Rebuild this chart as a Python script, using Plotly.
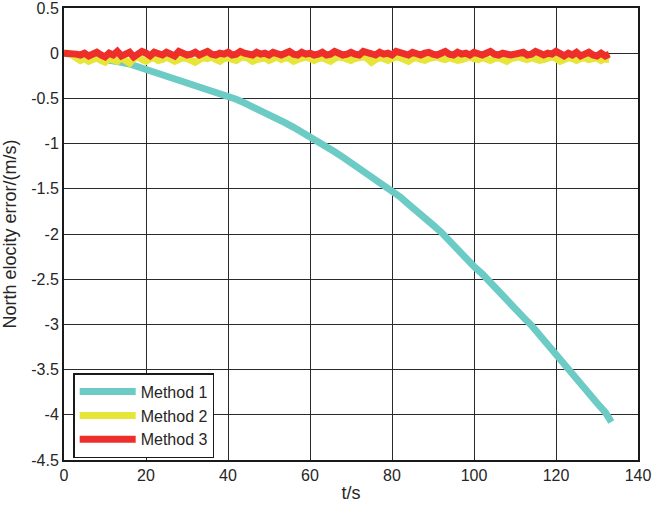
import plotly.graph_objects as go

# Method 1 (drifting estimate)
t_m1 = [0, 2, 4, 6, 8, 10, 12, 14, 16, 18, 20, 22, 24, 26, 28, 30, 32, 34, 36, 38,
        40, 42, 44, 46, 48, 50, 52, 54, 56, 58, 60, 62, 64, 66, 68, 70, 72, 74, 76, 78,
        80, 82, 84, 86, 88, 90, 92, 94, 96, 98, 100, 102, 104, 106, 108, 110, 112, 114,
        116, 118, 120, 122, 124, 126, 128, 130, 132, 133.5]
v_m1 = [0, -0.01, -0.03, -0.05, -0.05, -0.07, -0.08, -0.10, -0.12, -0.15,
        -0.17, -0.19, -0.22, -0.25, -0.28, -0.31, -0.34, -0.38, -0.42, -0.45,
        -0.48, -0.51, -0.55, -0.59, -0.63, -0.67, -0.71, -0.77, -0.82, -0.87,
        -0.93, -0.97, -1.03, -1.09, -1.15, -1.21, -1.28, -1.34, -1.40, -1.46,
        -1.52, -1.59, -1.67, -1.74, -1.81, -1.90, -1.98, -2.08, -2.17, -2.27,
        -2.36, -2.44, -2.54, -2.64, -2.73, -2.82, -2.92, -3.01, -3.12, -3.23,
        -3.33, -3.44, -3.56, -3.65, -3.76, -3.87, -3.97, -4.08]

# Methods 2 and 3, one value per second
t_noise = list(range(0, 134))
v_m2 = [0, 0, -0.02, -0.05, -0.08, -0.06, -0.09, -0.07, -0.05, -0.08,
        -0.10, -0.06, -0.07, -0.09, -0.05, -0.08, -0.11, -0.06, -0.04, -0.07,
        -0.09, -0.06, -0.05, -0.08, -0.07, -0.04, -0.06, -0.09, -0.07, -0.05,
        -0.06, -0.08, -0.10, -0.07, -0.05, -0.06, -0.04, -0.07, -0.09, -0.06,
        -0.05, -0.07, -0.08, -0.05, -0.04, -0.06, -0.09, -0.07, -0.06, -0.05,
        -0.08, -0.06, -0.04, -0.07, -0.05, -0.06, -0.09, -0.07, -0.05, -0.04,
        -0.06, -0.08, -0.06, -0.05, -0.07, -0.09, -0.06, -0.04, -0.05, -0.07,
        -0.08, -0.06, -0.05, -0.04, -0.06, -0.10, -0.07, -0.05, -0.06, -0.08,
        -0.06, -0.04, -0.05, -0.07, -0.09, -0.06, -0.05, -0.07, -0.08, -0.06,
        -0.05, -0.04, -0.06, -0.07, -0.05, -0.06, -0.08, -0.07, -0.05, -0.04,
        -0.06, -0.07, -0.05, -0.06, -0.08, -0.06, -0.05, -0.07, -0.09, -0.06,
        -0.05, -0.04, -0.06, -0.07, -0.05, -0.06, -0.08, -0.07, -0.05, -0.04,
        -0.06, -0.09, -0.07, -0.05, -0.06, -0.08, -0.06, -0.05, -0.07, -0.06,
        -0.05, -0.08, -0.06, -0.07]
v_m3 = [0, 0, 0, -0.01, -0.02, 0.00, -0.03, -0.01, 0.01, -0.02,
        -0.04, 0.00, -0.02, 0.02, -0.03, -0.01, 0.01, -0.04, -0.02, 0.02,
        0.00, -0.03, 0.01, -0.01, -0.02, 0.01, -0.01, -0.03, 0.02, 0.00,
        -0.02, -0.01, 0.01, -0.02, 0.00, 0.02, -0.01, -0.02, 0.00, -0.01,
        0.01, -0.02, -0.01, 0.02, 0.00, -0.01, -0.02, 0.01, -0.01, 0.00,
        -0.02, 0.01, -0.01, -0.02, 0.00, 0.02, -0.01, -0.02, 0.01, -0.01,
        0.00, -0.02, -0.01, 0.01, -0.02, -0.01, 0.02, 0.00, -0.02, -0.01,
        0.01, -0.01, -0.02, 0.02, 0.00, -0.01, -0.02, 0.01, -0.01, 0.00,
        -0.02, 0.02, 0.00, -0.01, -0.02, 0.01, -0.01, -0.02, 0.00, 0.01,
        -0.01, -0.02, 0.00, 0.02, -0.01, -0.02, 0.01, -0.01, 0.00, -0.02,
        0.01, -0.01, -0.02, 0.00, 0.02, -0.01, -0.02, 0.00, -0.01, -0.02,
        -0.01, 0.00, 0.01, -0.02, -0.01, 0.02, -0.01, -0.02, 0.00, -0.01,
        0.02, -0.01, -0.03, 0.00, -0.02, 0.01, -0.03, -0.01, 0.01, -0.02,
        -0.03, 0.00, -0.03, -0.01]

x_ticks = [0, 20, 40, 60, 80, 100, 120, 140]
y_ticks = [0.5, 0, -0.5, -1, -1.5, -2, -2.5, -3, -3.5, -4, -4.5]
y_ticktext = ["0.5", "0", "-0.5", "-1", "-1.5", "-2", "-2.5", "-3", "-3.5", "-4", "-4.5"]

fig = go.Figure()
fig.add_trace(go.Scatter(x=t_m1, y=v_m1, mode="lines", name="Method 1",
                         line=dict(color="#6CCBC4", width=7)))
fig.add_trace(go.Scatter(x=t_noise, y=v_m2, mode="lines", name="Method 2",
                         line=dict(color="#E6E63A", width=7)))
fig.add_trace(go.Scatter(x=t_noise, y=v_m3, mode="lines", name="Method 3",
                         line=dict(color="#EE2E2A", width=7)))

axis_common = dict(showline=True, mirror=True, linecolor="#1a1a1a", linewidth=2,
                   showgrid=True, gridcolor="#2a2a2a", gridwidth=1.2, automargin=False,
                   ticklabeloverflow="allow",
                   zeroline=False, ticks="", tickfont=dict(size=16, color="#262626"))

fig.update_layout(
    width=653, height=510,
    margin=dict(l=64, r=15, t=8, b=50),
    paper_bgcolor="white", plot_bgcolor="white",
    font=dict(family="Liberation Sans, Arial, sans-serif", size=15, color="#262626"),
    xaxis=dict(range=[0, 140], tickvals=x_ticks,
               title=dict(text="t/s", standoff=3), **axis_common),
    yaxis=dict(range=[-4.5, 0.5], tickvals=y_ticks, ticktext=y_ticktext,
               title=dict(text="North elocity error/(m/s)", standoff=11), **axis_common),
    legend=dict(x=0.016, y=0.192, xanchor="left", yanchor="top",
                bgcolor="white", bordercolor="#1a1a1a", borderwidth=1.5,
                font=dict(size=16, color="#262626"), tracegroupgap=0, itemwidth=56),
    showlegend=True,
)

# drop the default page margin so the figure sits at the window's top-left corner
fig.write_html("out.html", config={"displayModeBar": False},
               post_script="document.body.style.margin='0px';")
